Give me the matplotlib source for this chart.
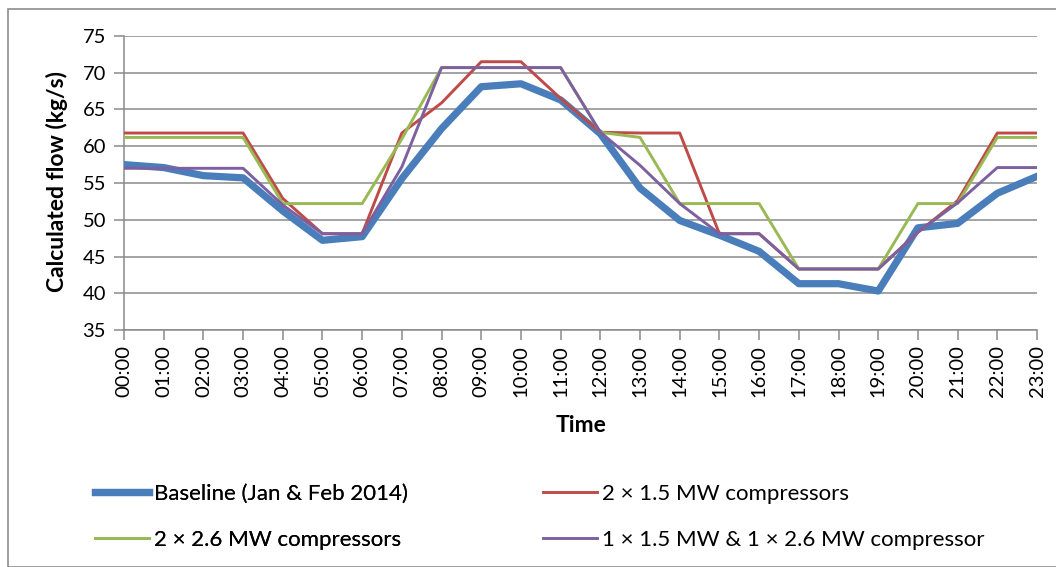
import matplotlib
matplotlib.use("Agg")
import matplotlib.pyplot as plt
from matplotlib.patches import Rectangle

plt.rcParams['font.family'] = ['Lato', 'DejaVu Sans']

hours = ["00:00", "01:00", "02:00", "03:00", "04:00", "05:00", "06:00", "07:00",
         "08:00", "09:00", "10:00", "11:00", "12:00", "13:00", "14:00", "15:00",
         "16:00", "17:00", "18:00", "19:00", "20:00", "21:00", "22:00", "23:00"]

baseline = [57.5, 57.1, 56.0, 55.7, 51.2, 47.2, 47.7, 55.6, 62.4, 68.1, 68.5, 66.3,
            61.7, 54.3, 49.9, 47.9, 45.7, 41.3, 41.3, 40.3, 48.9, 49.5, 53.6, 55.9]
two_15 = [61.8, 61.8, 61.8, 61.8, 52.9, 48.1, 48.1, 61.8, 65.9, 71.5, 71.5, 66.5,
          61.9, 61.8, 61.8, 48.1, 48.1, 43.3, 43.3, 43.3, 48.3, 52.6, 61.8, 61.8]
two_26 = [61.2, 61.2, 61.2, 61.2, 52.2, 52.2, 52.2, 61.0, 70.7, 70.7, 70.7, 70.7,
          61.9, 61.2, 52.2, 52.2, 52.2, 43.3, 43.3, 43.3, 52.2, 52.2, 61.2, 61.2]
mixed = [57.0, 57.0, 57.0, 57.0, 52.0, 48.1, 48.1, 57.2, 70.7, 70.7, 70.7, 70.7,
         61.9, 57.4, 52.2, 48.1, 48.1, 43.3, 43.3, 43.3, 48.3, 52.3, 57.1, 57.1]

labels = ["Baseline (Jan & Feb 2014)", "2 \u00d7 1.5 MW compressors",
          "2 \u00d7 2.6 MW compressors", "1 \u00d7 1.5 MW & 1 \u00d7 2.6 MW compressor"]

W, H = 1056, 567
fig = plt.figure(figsize=(W / 100, H / 100), dpi=100)
fig.patches.append(Rectangle((8 / W, 0), 1.2, 1 - 9 / H, transform=fig.transFigure,
                             fill=False, edgecolor='#8c8c8c', linewidth=1.2))

ax = fig.add_axes([124 / W, 1 - 330 / H, (1037 - 124) / W, (330 - 36) / H])
x = list(range(len(hours)))
l1, = ax.plot(x, baseline, color='#4A7EBB', lw=5.2, solid_joinstyle='round', zorder=3)
l2, = ax.plot(x, two_15, color='#BE4B48', lw=2.1, zorder=4)
l3, = ax.plot(x, two_26, color='#98B954', lw=2.1, zorder=5)
l4, = ax.plot(x, mixed, color='#7D60A0', lw=2.1, zorder=6)

ax.set_xlim(0, 23)
ax.set_ylim(35, 75)
ax.set_yticks(range(35, 80, 5))
ax.set_xticks(x)
ax.set_xticklabels(hours, rotation=90)
ax.yaxis.grid(True, color='#8a8a8a', lw=1.1)
ax.set_axisbelow(True)
for s in ['top', 'right']:
    ax.spines[s].set_visible(False)
for s in ['left', 'bottom']:
    ax.spines[s].set_color('#8a8a8a')
    ax.spines[s].set_linewidth(1.1)
ax.tick_params(axis='both', colors='#8a8a8a', labelcolor='black', labelsize=14.5,
               length=7, width=1.1, direction='out')
ax.tick_params(axis='y', pad=6)
ax.tick_params(axis='x', pad=4)

fig.text(57 / W, 1 - 182 / H, "Calculated flow (kg/s)", rotation=90, ha='center',
         va='center', fontsize=16.5, fontweight='bold')
fig.text(581 / W, 1 - 425 / H, "Time", ha='center', va='center', fontsize=16.5,
         fontweight='bold')

leg_kw = dict(loc='upper left', frameon=False, fontsize=16, handlelength=2.45,
              handletextpad=0.2, labelspacing=1.18, borderaxespad=0, borderpad=0)
leg1 = fig.legend([l1, l3], [labels[0], labels[2]],
                  bbox_to_anchor=(95 / W, 1 - 484 / H), **leg_kw)
leg2 = fig.legend([l2, l4], [labels[1], labels[3]],
                  bbox_to_anchor=(543 / W, 1 - 484 / H), **leg_kw)
fig.add_artist(leg1)

fig.savefig("out.png", dpi=100)
